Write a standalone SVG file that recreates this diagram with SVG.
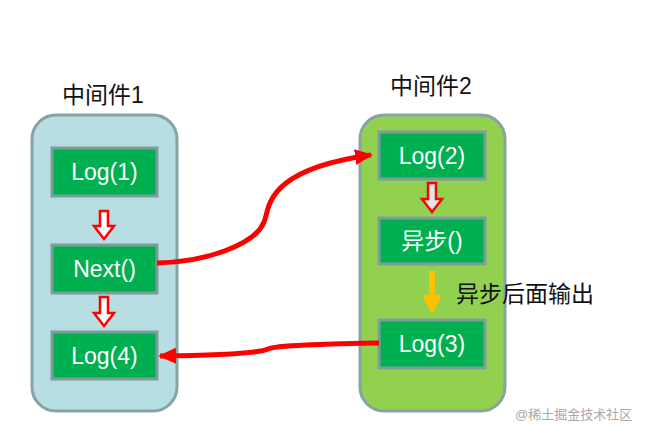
<svg xmlns="http://www.w3.org/2000/svg" width="654" height="436" viewBox="0 0 654 436">
<defs>
<style>
.cont{stroke:#86a4a4;stroke-width:3}
.box{fill:#00b050;stroke:#7f9c9c;stroke-width:3}
.lbl{font-family:"Liberation Sans","Noto Sans CJK SC",sans-serif;font-size:23px;fill:#ffffff;text-anchor:middle}
.ttl{font-family:"Liberation Sans","Noto Sans CJK SC",sans-serif;font-size:23px;fill:#111111}
.conn{fill:none;stroke:#ff0000;stroke-width:5}
.hollow{fill:#ffffff;stroke:#ff0000;stroke-width:2.5}
</style>
<marker id="ah" markerWidth="18" markerHeight="18" refX="16" refY="9" orient="auto" markerUnits="userSpaceOnUse">
<path d="M0,1 L18,9 L0,17 Z" fill="#ff0000"/>
</marker>
</defs>
<rect width="654" height="436" fill="#ffffff"/>
<g id="mw1">
<text class="ttl" x="62" y="103">中间件1</text>
<rect class="cont" x="32" y="115" width="145" height="296" rx="24" fill="#b7dee2"/>
</g>
<g id="mw2">
<text class="ttl" x="390" y="94">中间件2</text>
<rect class="cont" x="360" y="115" width="145" height="296" rx="24" fill="#92d050"/>
</g>
<g id="log1"><rect class="box" x="52" y="148" width="105" height="48"/><text class="lbl" x="104.5" y="180">Log(1)</text></g>
<g id="next"><rect class="box" x="52" y="245" width="105" height="48"/><text class="lbl" x="104.5" y="277">Next()</text></g>
<g id="log4"><rect class="box" x="52" y="332" width="105" height="47"/><text class="lbl" x="104.5" y="364">Log(4)</text></g>
<g id="log2"><rect class="box" x="379" y="132" width="106" height="47"/><text class="lbl" x="432" y="164">Log(2)</text></g>
<g id="async"><rect class="box" x="379" y="218" width="106" height="46"/><text class="lbl" x="432" y="249">异步()</text></g>
<g id="log3"><rect class="box" x="379" y="320" width="106" height="48"/><text class="lbl" x="432" y="352">Log(3)</text></g>
<g id="connectors">
<polygon class="hollow" points="100,211 108,211 108,226 114,226 104,239 94,226 100,226"/>
<polygon class="hollow" points="100,297 108,297 108,313 114,313 104,326 94,313 100,313"/>
<polygon class="hollow" points="428,183 436,183 436,199 442,199 432,212 422,199 428,199" style="fill:#dfe6e6"/>
<polygon points="429,271 435,271 435,295 442,295 432,314 422,295 429,295" fill="#ffc000"/>
<path class="conn" d="M157,263 C205,262 255,245 264,222 C270,210 262,170 371,155" marker-end="url(#ah)"/>
<path class="conn" d="M379,343 C330,344 275,345 268,349 C262,352 230,355 160,356" marker-end="url(#ah)"/>
</g>
<text x="456" y="302" font-family="'Liberation Sans','Noto Sans CJK SC',sans-serif" font-size="23" fill="#111111">异步后面输出</text>
<text x="515" y="419" font-family="'Liberation Sans','Noto Sans CJK SC',sans-serif" font-size="13" fill="#a8a8a8">@稀土掘金技术社区</text>
</svg>
